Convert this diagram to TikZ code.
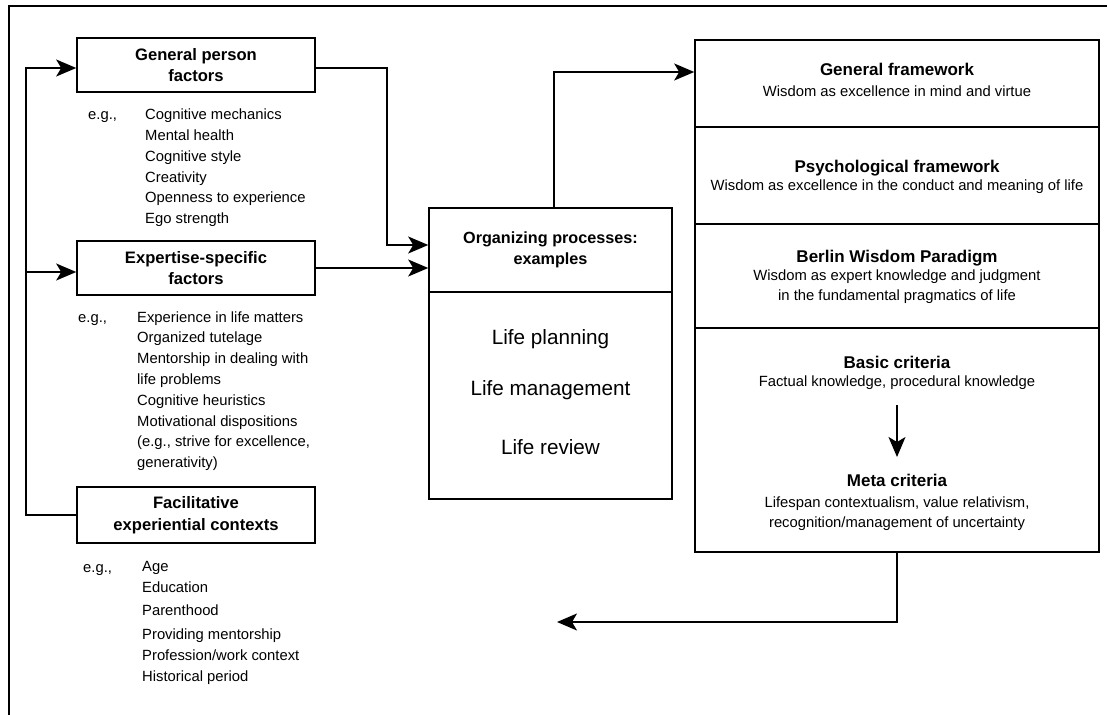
\documentclass[tikz,border=0pt]{standalone}
\usepackage{fontspec}
\setmainfont{Liberation Sans}
\usetikzlibrary{arrows.meta}

% font sizes used throughout
\newcommand\itemfont{\fontsize{14.8}{20.8}\selectfont}
\newcommand\headfont{\bfseries\fontsize{16.6}{21.6}\selectfont}
\newcommand\orgfont{\bfseries\fontsize{16.2}{20.5}\selectfont}
\newcommand\cellhead{\bfseries\fontsize{17}{21}\selectfont}
\newcommand\lifefont{\fontsize{20.7}{24}\selectfont}

\tikzset{
  frameline/.style={line width=2pt, line cap=rect},
  box/.style={draw, line width=1.6pt, inner sep=0pt, align=center, font=\headfont},
  conn/.style={line width=1.5pt, -{Stealth[length=20pt,width=17pt,inset=5pt]}},
  item/.style={anchor=base west, inner sep=0pt, font=\itemfont},
  ctext/.style={anchor=base, inner sep=0pt, font=\itemfont},
  chead/.style={anchor=base, inner sep=0pt, font=\cellhead},
  life/.style={anchor=base, inner sep=0pt, font=\lifefont},
}

\begin{document}
\begin{tikzpicture}[x=1pt,y=-1pt]
\useasboundingbox (0,0) rectangle (1107,714);

% partial outer frame
\draw[frameline] (1107,6) -- (9,6) -- (9,714);

% ---------- left column: antecedent factors ----------
\node[box, minimum width=238pt, minimum height=54pt] (gpf) at (196,65) {General person\\factors};
\node[box, minimum width=238pt, minimum height=54pt] (exp) at (196,268) {Expertise-specific\\factors};
\node[box, minimum width=238pt, minimum height=56pt] (fac) at (196,515) {Facilitative\\experiential contexts};

\node[item] (eg1) at (88,120) {e.g.,};
\foreach \t [count=\i from 0] in {Cognitive mechanics, Mental health, Cognitive style, Creativity, Openness to experience, Ego strength}
  \node[item] (gp-\i) at (145,120+20.7*\i) {\t};

\node[item] (eg2) at (78,322) {e.g.,};
\foreach \t [count=\i from 0] in {Experience in life matters, Organized tutelage, Mentorship in dealing with, life problems, Cognitive heuristics, Motivational dispositions, {(e.g., strive for excellence,}, generativity)}
  \node[item] (ex-\i) at (137,322+20.8*\i) {\t};

\node[item] (eg3) at (83,572) {e.g.,};
\foreach \t/\y [count=\i from 0] in {Age/571.7, Education/592.3, Parenthood/615.7, Providing mentorship/639.3, Profession\slash work context/660.7, Historical period/681.7}
  \node[item] (fc-\i) at (142,\y) {\t};

% ---------- middle: organizing processes ----------
\node[box, font=\orgfont, minimum width=243pt, minimum height=84pt] (org) at (550.5,250) {Organizing processes:\\examples};
\node[box, minimum width=243pt, minimum height=207pt] (orgb) at (550.5,395.5) {};
\node[life] (lp) at (550.5,344) {Life planning};
\node[life] (lm) at (550.5,395) {Life management};
\node[life] (lr) at (550.5,454) {Life review};

% ---------- right column: frameworks ----------
\node[box, minimum width=404pt, minimum height=87pt] (rf1) at (897,83.5) {};
\node[box, minimum width=404pt, minimum height=97pt] (rf2) at (897,175.5) {};
\node[box, minimum width=404pt, minimum height=104pt] (rf3) at (897,276) {};
\node[box, minimum width=404pt, minimum height=224pt] (rf4) at (897,440) {};

\node[chead] (h1) at (897,76) {General framework};
\node[ctext] (s1) at (897,97) {Wisdom as excellence in mind and virtue};
\node[chead] (h2) at (897,172) {Psychological framework};
\node[ctext] (s2) at (897,190.5) {Wisdom as excellence in the conduct and meaning of life};
\node[chead] (h3) at (897,262) {Berlin Wisdom Paradigm};
\node[ctext] (s3a) at (897,280.5) {Wisdom as expert knowledge and judgment};
\node[ctext] (s3b) at (897,300.5) {in the fundamental pragmatics of life};
\node[chead] (h4) at (897,368) {Basic criteria};
\node[ctext] (s4) at (897,386.5) {Factual knowledge, procedural knowledge};
\node[chead] (h5) at (897,486) {Meta criteria};
\node[ctext] (s5a) at (897,507) {Lifespan contextualism, value relativism,};
\node[ctext] (s5b) at (897,527) {recognition\slash management of uncertainty};

\coordinate (bc-out) at (897,405);
\coordinate (mc-in) at (897,457);
\draw[conn] (bc-out) -- (mc-in);

% ---------- connectors ----------
\coordinate (ret) at (557,622);
\draw[conn] (fac.west) -- ++(-50,0) |- ([yshift=-3pt]gpf.west);
\draw[conn] ([yshift=-4pt,xshift=-50pt]exp.west) -- ([yshift=-4pt]exp.west);
\draw[conn] ([yshift=-3pt]gpf.east) -| ([xshift=-41pt,yshift=5pt]org.west) -- ([yshift=5pt]org.west);
\draw[conn] (exp.east) -- (exp.east -| org.west);
\draw[conn] ([xshift=3.5pt]org.north) |- ([yshift=11.5pt]rf1.west);
\draw[conn] (rf4.south) |- (ret);

\end{tikzpicture}
\end{document}
